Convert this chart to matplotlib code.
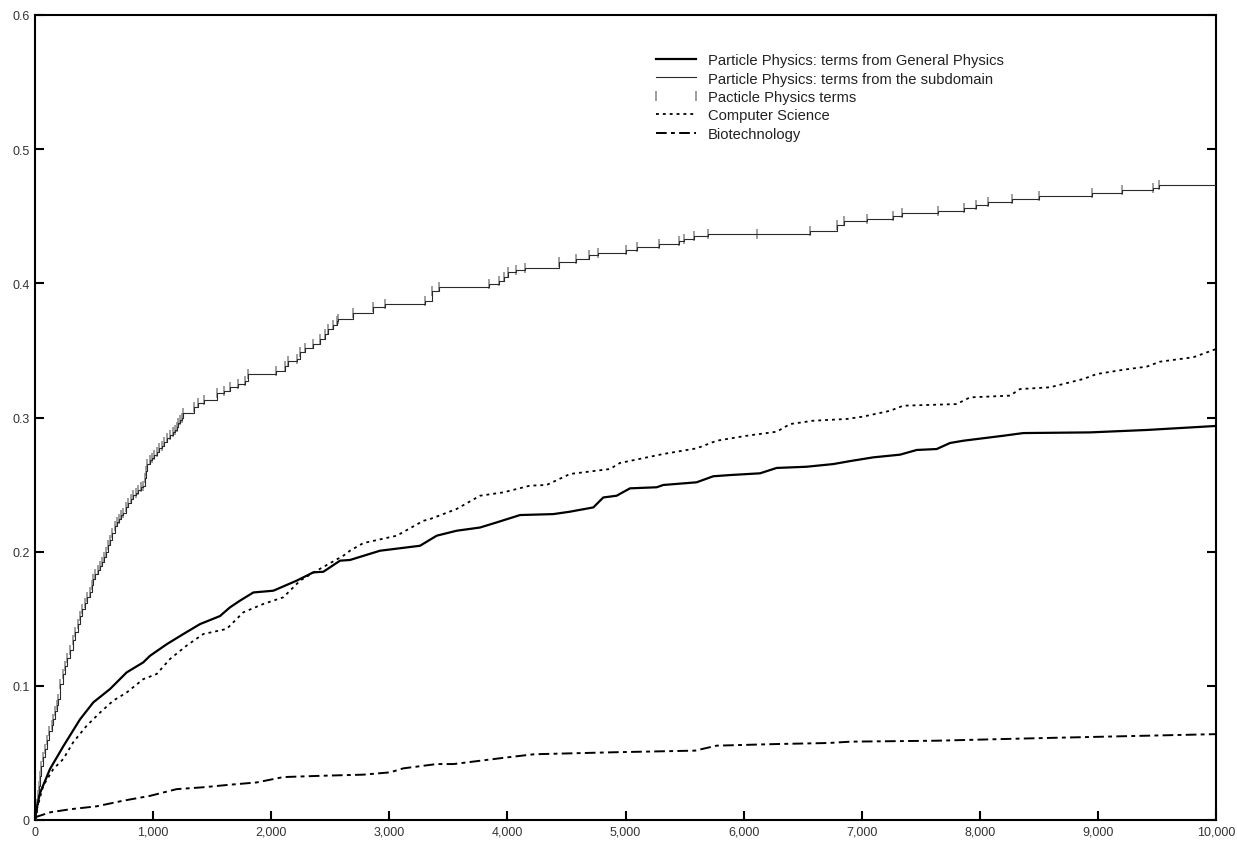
import matplotlib
matplotlib.use("Agg")
import matplotlib.pyplot as plt
from matplotlib.ticker import FuncFormatter

plt.rcParams["font.family"] = ["Liberation Sans", "DejaVu Sans"]

# step positions (x) and the level reached there, for the subdomain terms
sub_x = [0, 8, 14, 22, 30, 42, 55, 70, 85, 100, 120, 140, 155, 170, 185, 197,
         215, 235, 254, 275, 296, 318, 340, 360, 381, 400, 420, 443, 466, 480,
         494, 512, 530, 548, 565, 583, 600, 618, 635, 656, 677, 694, 710, 730,
         748, 770, 790, 810, 832, 855, 875, 897, 917, 931, 941, 951, 970, 988,
         1010, 1030, 1052, 1072, 1095, 1115, 1143, 1171, 1185, 1199, 1214, 1228,
         1242, 1256, 1345, 1383, 1431, 1540, 1600, 1651, 1722,
         1778, 1806, 2040, 2117, 2145, 2216, 2244, 2286, 2357, 2413, 2455, 2484,
         2520, 2554, 2568, 2690, 2860, 2960, 3300, 3360, 3420, 3840, 3931, 3971,
         4008, 4073, 4149, 4440, 4578, 4694, 4765, 5002, 5100, 5281, 5456, 5495,
         5580, 5700, 6110, 6560, 6788, 6850, 7042, 7268, 7344, 7649, 7866, 7965,
         8072, 8270, 8504, 8950, 9201, 9464, 9520, 10000]
sub_y = [0.0, 0.006, 0.012, 0.019, 0.025, 0.033, 0.040, 0.047, 0.053, 0.060,
         0.066, 0.071, 0.075, 0.081, 0.086, 0.090, 0.101, 0.109, 0.115, 0.121,
         0.127, 0.134, 0.140, 0.146, 0.152, 0.157, 0.162, 0.166, 0.170, 0.175,
         0.180, 0.183, 0.186, 0.189, 0.192, 0.196, 0.200, 0.205, 0.209, 0.214,
         0.219, 0.222, 0.224, 0.227, 0.229, 0.233, 0.236, 0.239, 0.242, 0.244,
         0.246, 0.248, 0.249, 0.255, 0.260, 0.265, 0.268, 0.270, 0.272, 0.274,
         0.277, 0.279, 0.282, 0.285, 0.287, 0.289, 0.291, 0.293, 0.296, 0.298,
         0.300, 0.303, 0.308, 0.311, 0.313, 0.318, 0.320, 0.3225,
         0.325, 0.3274, 0.3324, 0.335, 0.3386, 0.3424, 0.3436, 0.3486, 0.3516,
         0.3548, 0.3585, 0.3622, 0.3659, 0.369, 0.3721, 0.3734, 0.3779, 0.3821,
         0.3846, 0.387, 0.3945, 0.397, 0.3995, 0.4015, 0.405, 0.4082, 0.4102,
         0.4117, 0.4161, 0.4181, 0.4211, 0.4226, 0.4248, 0.4273, 0.4293, 0.4315,
         0.433, 0.4355, 0.437, 0.437, 0.4392, 0.4437, 0.4462, 0.4482, 0.4504,
         0.4521, 0.4541, 0.4561, 0.4584, 0.4606, 0.4628, 0.4651, 0.4674, 0.4693,
         0.4708, 0.473, 0.473]

gen_x = [0, 42, 127, 240, 381, 494, 635, 776, 917, 974, 1115, 1256, 1397, 1566,
         1651, 1736, 1849, 2018, 2216, 2357, 2441, 2583, 2667, 2921, 3260, 3401,
         3570, 3768, 3909, 4107, 4389, 4530, 4728, 4812, 4925, 5038, 5264, 5320,
         5602, 5743, 5885, 6139, 6280, 6534, 6760, 6901, 7098, 7325, 7466, 7635,
         7748, 7861, 8199, 8368, 8933, 9413, 10000]
gen_y = [0.003, 0.020, 0.038, 0.055, 0.075, 0.0877, 0.0976, 0.110, 0.1175,
         0.1224, 0.131, 0.1386, 0.146, 0.152, 0.1585, 0.1635, 0.1696, 0.1709,
         0.1784, 0.1846, 0.185, 0.1933, 0.1938, 0.2007, 0.2044, 0.2119, 0.2156,
         0.218, 0.2218, 0.2273, 0.228, 0.2298, 0.233, 0.2404, 0.2417, 0.2472,
         0.248, 0.2497, 0.2517, 0.2562, 0.2571, 0.2584, 0.2624, 0.2633, 0.2653,
         0.2675, 0.2703, 0.2723, 0.2758, 0.2765, 0.281, 0.2827, 0.2864, 0.2884,
         0.2889, 0.2907, 0.2937]

cs_x = [0, 70, 155, 240, 324, 438, 550, 663, 776, 917, 1030, 1143, 1284, 1425,
        1623, 1764, 1933, 2103, 2244, 2385, 2611, 2667, 2780, 3063, 3288, 3345,
        3570, 3768, 3966, 4191, 4332, 4530, 4868, 4953, 5320, 5602, 5772, 6026,
        6280, 6393, 6590, 6873, 7014, 7240, 7352, 7804, 7917, 8256, 8340, 8594,
        8876, 8990, 9215, 9413, 9526, 9808, 10000]
cs_y = [0.003, 0.0256, 0.038, 0.0455, 0.058, 0.0703, 0.080, 0.089, 0.095, 0.105,
        0.1088, 0.120, 0.130, 0.1386, 0.1424, 0.1548, 0.161, 0.166, 0.1784,
        0.1858, 0.197, 0.2007, 0.2064, 0.2119, 0.223, 0.2243, 0.2318, 0.2417,
        0.2442, 0.2492, 0.2497, 0.2579, 0.2616, 0.2661, 0.2728, 0.277, 0.2827,
        0.2864, 0.2894, 0.2951, 0.2976, 0.2989, 0.3007, 0.305, 0.3088, 0.310,
        0.315, 0.3163, 0.3212, 0.3225, 0.3287, 0.3324, 0.3356, 0.3379, 0.3416,
        0.3449, 0.351]

bio_x = [0, 127, 296, 522, 748, 974, 1199, 1425, 1651, 1877, 2103, 2441, 2780,
         3006, 3119, 3401, 3544, 4000, 4226, 4908, 5589, 5771, 6270, 6723, 6906,
         7633, 8223, 8500, 9000, 9500, 10000]
bio_y = [0.002, 0.0057, 0.008, 0.0102, 0.0144, 0.018, 0.023, 0.0244, 0.0263,
         0.028, 0.032, 0.033, 0.0338, 0.0355, 0.0385, 0.0417, 0.0417, 0.0467,
         0.049, 0.0505, 0.0517, 0.0554, 0.0566, 0.0574, 0.0584, 0.0591, 0.0604,
         0.061, 0.062, 0.063, 0.064]

x_ticks = list(range(0, 10001, 1000))
y_ticks = [0, 0.1, 0.2, 0.3, 0.4, 0.5, 0.6]

labels = ["Particle Physics: terms from General Physics",
          "Particle Physics: terms from the subdomain",
          "Pacticle Physics terms",
          "Computer Science",
          "Biotechnology"]

fig = plt.figure(figsize=(12.37, 8.45), dpi=100)
ax = fig.add_axes([35 / 1237, 24 / 845, 1181 / 1237, 805 / 845])

ax.plot(gen_x, gen_y, color="black", lw=1.6, label=labels[0], zorder=4)
ax.plot(sub_x, sub_y, color="#2a2a2a", lw=0.8, drawstyle="steps-post",
        label=labels[1], zorder=3)
ax.plot(sub_x[1:-1], sub_y[1:-1], ls="none", marker="|", ms=7.5, mew=1.1,
        color="#858585", label=labels[2], zorder=2)
ax.plot(cs_x, cs_y, color="black", lw=1.3, ls=(0, (1.6, 2.2)),
        label=labels[3], zorder=4)
ax.plot(bio_x, bio_y, color="black", lw=1.4, ls=(0, (5.5, 2.2, 2.0, 2.2)),
        label=labels[4], zorder=4)

ax.set_xlim(0, 10000)
ax.set_ylim(0, 0.6)
ax.set_xticks(x_ticks)
ax.set_yticks(y_ticks)
ax.xaxis.set_major_formatter(FuncFormatter(lambda v, p: f"{int(v):,}"))
ax.yaxis.set_major_formatter(FuncFormatter(lambda v, p: "0" if v == 0 else f"{v:.1f}"))

for s in ax.spines.values():
    s.set_linewidth(1.5)
ax.tick_params(axis="both", direction="in", length=6.5, width=1.5,
               labelsize=9, labelcolor="#333333")
ax.tick_params(axis="y", right=True, pad=4)
ax.tick_params(axis="x", pad=4)

leg = ax.legend(loc="upper left", bbox_to_anchor=(0.5175, 0.960), frameon=False,
                fontsize=10.6, handlelength=3.3, handletextpad=0.5,
                labelspacing=0.3, borderaxespad=0, numpoints=2)
for t in leg.get_texts():
    t.set_color("#222222")

fig.savefig("out.png", dpi=100)
